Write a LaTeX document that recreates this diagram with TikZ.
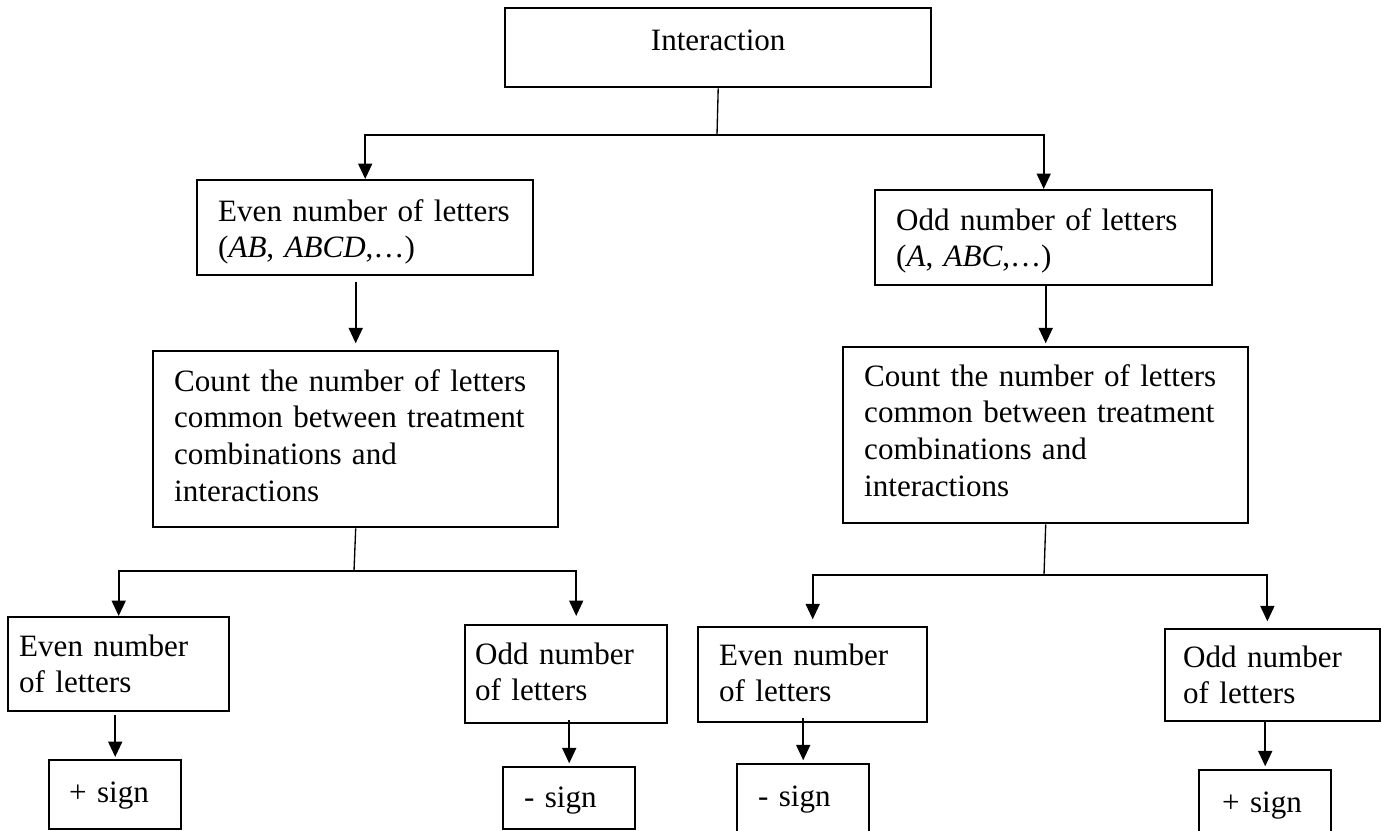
\documentclass[tikz,border=0pt]{standalone}
\usepackage{fontspec}
\setmainfont{Liberation Serif}
\usepackage{tikz}
\usetikzlibrary{arrows.meta}
\hyphenpenalty=10000

\begin{document}
\begin{tikzpicture}
	[x=0.375pt, y=-0.375pt, font=\fontsize{11.65}{13.76}\selectfont,
	box/.style = {draw, line width=0.9pt, anchor=north west, inner ysep=0pt, align=left},
	link/.style = {draw, line width=0.8pt, -{Triangle[length=5.8pt,width=5.2pt]}},
	stem/.style = {draw, line width=0.5pt}]
	\path[use as bounding box, clip] (0,0) rectangle (1381,830);
	\node[box, align=center, text width=152.25pt, inner xsep=3.75pt, text height=15.75pt, text depth=13.875pt] (1) at (504,7) {Interaction};
	\node[box, text width=110.25pt, inner xsep=7.875pt, text height=15.375pt, text depth=20.25pt] (2) at (196,179) {Even number of letters\\(\textit{AB}, \textit{ABCD},…)};
	\node[box, text width=110.625pt, inner xsep=7.875pt, text height=15pt, text depth=20.625pt] (3) at (874,189) {Odd number of letters\\(\textit{A}, \textit{ABC},…)};
	\node[box, text width=136.125pt, inner xsep=7.875pt, text height=15pt, text depth=51pt] (4) at (152,350) {Count the number of letters\\common between treatment\\combinations and\\interactions};
	\node[box, text width=136.125pt, inner xsep=7.875pt, text height=14.625pt, text depth=51.375pt] (5) at (842,346) {Count the number of letters\\common between treatment\\combinations and\\interactions};
	\node[box, text width=74.625pt, inner xsep=4.125pt, text height=14.625pt, text depth=20.625pt] (6) at (7,616) {Even number\\of letters};
	\node[box, text width=68.25pt, inner xsep=3.75pt, text height=14.625pt, text depth=22.125pt] (7) at (464,624) {Odd number\\of letters};
	\node[box, text width=70.125pt, inner xsep=7.875pt, text height=14.25pt, text depth=21.375pt] (8) at (697,626) {Even number\\of letters};
	\node[box, text width=67.125pt, inner xsep=6.75pt, text height=14.25pt, text depth=20.25pt] (9) at (1164,628) {Odd number\\of letters};
	\node[box, text width=34.5pt, inner xsep=7.5pt, text height=15.75pt, text depth=10.125pt] (10) at (48,759) {+ sign};
	\node[box, text width=33.75pt, inner xsep=7.875pt, text height=15pt, text depth=8.25pt] (11) at (502,766) {- sign};
	\node[box, text width=33.75pt, inner xsep=7.875pt, text height=15.75pt, text depth=15pt] (12) at (736,763) {- sign};
	\node[box, text width=32.25pt, inner xsep=8.625pt, text height=15.75pt, text depth=12.75pt] (13) at (1198,769) {+ sign};
	\coordinate (f1) at (717,135);
	\coordinate (f2) at (354,571);
	\coordinate (f3) at (1044,575);
	\draw[stem] (1.south) -- (f1);
	\draw[link] (f1) -| (2.north);
	\draw[link] (f1) -| (3.north);
	\draw[link, shorten <=2pt, shorten >=2.5pt] (2.south -| 4.north) -- (4.north);
	\draw[link, shorten >=1pt] (3.south -| 5.north) -- (5.north);
	\draw[stem] (4.south) -- (f2);
	\draw[stem] (5.south) -- (f3);
	\draw[link] (f2) -| (6.north);
	\draw[link, shorten >=3pt] (f2) -| ([xshift=3.75pt]7.north);
	\draw[link, shorten >=2.5pt] (f3) -| (8.north);
	\draw[link, shorten >=2.5pt] (f3) -| ([xshift=-2pt]9.north);
	\draw[link, shorten <=1pt, shorten >=0.75pt] (6.south -| 10.north) -- (10.north);
	\draw[link, shorten <=-1.5pt, shorten >=1pt] (7.south -| 11.north) -- (11.north);
	\draw[link, shorten <=-2pt, shorten >=1pt] (8.south -| 12.north) -- (12.north);
	\draw[link, shorten >=1pt] (9.south -| 13.north) -- (13.north);
\end{tikzpicture}
\end{document}
